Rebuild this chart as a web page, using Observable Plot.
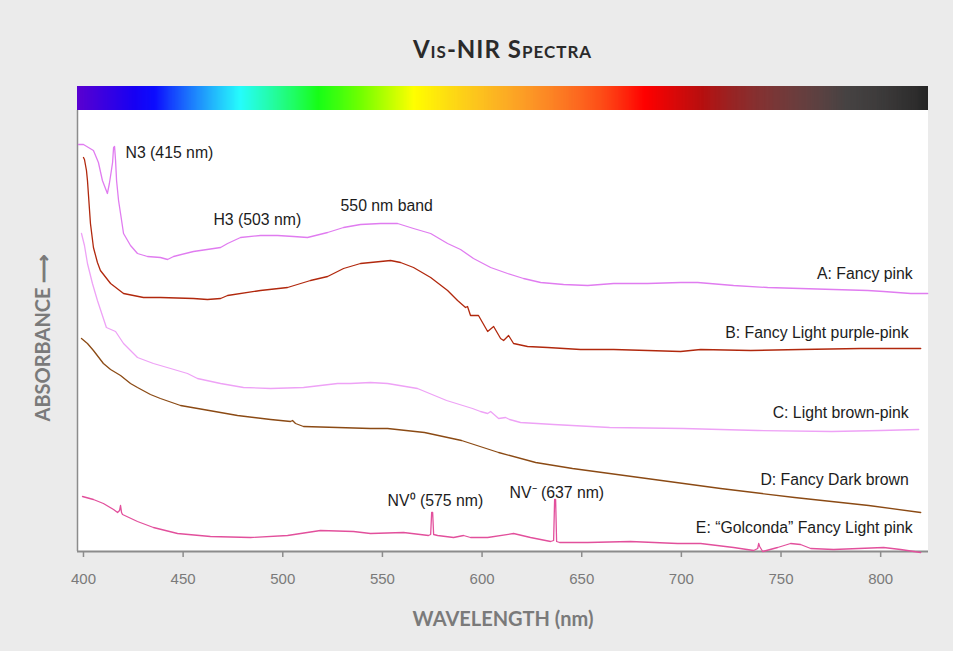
<!DOCTYPE html>
<html>
<head>
<meta charset="utf-8">
<script src="https://cdn.jsdelivr.net/npm/d3@7"></script>
<script src="https://cdn.jsdelivr.net/npm/@observablehq/plot@0.6"></script>
<style>
  html, body { margin: 0; padding: 0; background: #ebebeb; }
  #wrap { width: 953px; height: 651px; overflow: hidden; position: relative; }
  #title {
    position: absolute; left: 77px; width: 851px; top: 0;
    height: 70px; box-sizing: border-box; padding-top: 35px;
    text-align: center; font-family: Lato, "Open Sans", sans-serif;
    font-weight: 700; font-size: 24px; line-height: 28px; color: #2a2a2a;
    font-variant: small-caps; letter-spacing: 1px;
  }
  #chart { position: absolute; left: 0; top: 70px; }
  svg { display: block; }
</style>
</head>
<body>
<div id="wrap">
  <div id="title">Vis-NIR Spectra</div>
  <div id="chart"></div>
</div>
<script>
// ---- data (wavelength nm, relative absorbance, offset traces) ----
const xTicks = [400, 450, 500, 550, 600, 650, 700, 750, 800];

const specA = [[397.5,407],[400,407],[405,401],[407.5,389],[409.5,371],[412,358],[413,368],[414,381],[414.6,389],[415.1,404],[415.6,405],[416.1,391],[416.6,371],[417.6,351],[418.6,338],[420.1,318],[423.6,306],[427.1,298],[432.1,295],[438.6,294],[442.2,292],[445.2,295],[455.2,300],[468.8,304],[472.3,308],[478.8,314],[488.8,316],[497.4,316],[505.4,315],[512.4,314],[522.5,319],[530.5,324],[539,327],[549.1,328],[557.6,328],[565.6,323],[574.2,318],[582.7,308],[589.2,302],[595.7,293],[604.3,284],[612.8,278],[620.8,273],[629.4,269],[640.9,267],[653,266],[666,268],[683.1,268],[699.6,269],[708.2,269],[726.2,266],[743.3,264],[759.8,263],[776.4,262],[793.5,261],[801.5,260],[815.1,258],[823.6,258]];

const specB = [[400,394],[400.5,392],[401.5,381],[402,371],[403.5,328],[405,304],[407,289],[408.5,281],[413.6,268],[420.1,258],[430.1,254],[438.6,254],[455.2,253],[462.2,252],[468.8,253],[472.3,256],[488.8,261],[502.4,264],[513.9,271],[522.5,275],[530.5,283],[539,288],[549.1,290],[554.1,291],[559.1,289],[565.6,284],[574.2,274],[582.7,261],[587.7,251],[591.7,244],[592.7,245],[594.2,236],[598.2,236],[602.8,220],[605.8,225],[609.3,213],[610.8,211],[613.3,216],[615.8,208],[622.8,205],[632.9,204],[649.4,202],[666,202],[683.1,201],[699.6,200],[709.7,202],[734.8,201],[759.8,202],[790,203],[820.1,203]];

const specC = [[399,318],[400.5,306],[402,288],[404.5,268],[407,251],[411.5,224],[416.1,220],[420.1,208],[427.1,194],[435.1,188],[443.7,183],[452.2,178],[457.2,173],[468.8,168],[480.3,164],[493.9,163],[510.4,164],[527.5,168],[534,168],[544,169],[552.6,168],[567.6,163],[582.2,151],[595.2,143],[599.2,140],[602.8,138],[604.3,140],[608.3,133],[611.8,134],[613.8,132],[619.3,129],[635.9,127],[664,124],[701.1,123],[738.3,121],[775.4,120],[800,121],[819.1,122]];

const specD = [[399,213],[402,208],[405,201],[410,188],[413.6,182],[418.6,176],[423.6,168],[427.1,164],[433.6,157],[438.6,153],[448.7,146],[460.2,142],[477.3,136],[493.9,132],[503.9,130],[504.9,131],[506.4,128],[510.4,125],[527.5,124],[544,123],[552.6,123],[571.1,119],[589.7,111],[608.3,99],[626.9,89],[645.4,83],[682.6,73],[719.7,63],[756.8,54],[794,46],[820.1,39]];

const specE = [[399.5,55],[405,52],[410,48],[415.1,42],[417.1,39],[418.1,41],[418.6,46],[419.1,39],[419.6,37],[427.1,30],[435.1,24],[447.2,18],[463.7,15],[483.8,14],[502.4,16],[518.9,21],[535.5,20],[544,18],[560.6,19],[573.1,16],[574.2,17],[574.7,39],[575.2,39],[575.7,17],[577.7,16],[585.7,14],[590.7,16],[594.2,14],[602.8,14],[615.8,18],[624.3,14],[634.4,10],[635.9,11],[636.4,52],[636.9,52],[637.4,10],[638.9,9],[653,9],[674.5,10],[698.1,8],[709.7,8],[726.2,4],[736.3,1],[738.3,3],[738.8,8],[739.3,5],[740.8,0],[748.3,4],[754.8,8],[759.8,7],[764.9,3],[776.4,2],[801.5,4],[810,2],[820.1,-1]];

// visible-spectrum colour bar stops (nm -> colour)
const barStops  = [397, 436, 455, 479, 518, 566, 603, 628, 660, 682, 702, 727, 752, 783, 824];
const barColors = ["#5a00d0", "#0000ff", "#0070ff", "#00ffff", "#00ff00", "#ffff00", "#ffb400", "#ff8000", "#ff3c00", "#ff0000", "#cc0c0c", "#8e1515", "#5e1c1c", "#2a2626", "#262626"];

const seriesNames  = ["A: Fancy pink", "B: Fancy Light purple-pink", "C: Light brown-pink", "D: Fancy Dark brown", "E: \u201CGolconda\u201D Fancy Light pink"];
const seriesColors = ["#e07cf0", "#b1280d", "#eea2f6", "#8b4a14", "#e2509c"];

// annotation labels: text, wavelength, absorbance
const peakNotes = [
  ["N3 (415 nm)", 421.1, 399],
  ["H3 (503 nm)", 465.2, 332],
  ["550 nm band", 529.0, 346],
  ["NV\u2070 (575 nm)", 552.6, 51],
  ["NV\u207B (637 nm)", 613.8, 59]
];
const seriesNotes = [
  [seriesNames[0], 816.1, 278],
  [seriesNames[1], 814.1, 219],
  [seriesNames[2], 814.1, 139],
  [seriesNames[3], 814.1, 72],
  [seriesNames[4], 816.1, 24]
];

// ---- build ----
const xDomain = [397, 824];
const panelTop = 441, barTop = 465;
const series = [specA, specB, specC, specD, specE];
const table = series.flatMap((s, i) => s.map(([nm, v]) => ({nm, v, k: i})));

const barScale = d3.scaleLinear().domain(barStops).range(barColors).interpolate(d3.interpolateRgb);
const barCells = d3.range(xDomain[0], xDomain[1], 0.5);

const font = "'Liberation Sans', Arial, sans-serif";
const titleFont = "Lato, 'Open Sans', sans-serif";

const chart = Plot.plot({
  width: 953,
  height: 581,
  marginTop: 16,
  marginBottom: 100,
  marginLeft: 77,
  marginRight: 25,
  style: {background: "transparent", fontFamily: font},
  x: {domain: xDomain},
  y: {domain: [0, barTop], axis: null},
  color: {type: "identity"},
  marks: [
    Plot.rect([0], {x1: xDomain[0], x2: xDomain[1], y1: 0, y2: panelTop, fill: "white"}),
    Plot.rect(barCells, {x1: d => d, x2: d => Math.min(d + 0.6, xDomain[1]), y1: panelTop, y2: barTop, fill: d => barScale(d + 0.25)}),
    Plot.ruleX([xDomain[0]], {y1: 0, y2: panelTop, stroke: "#8c8c8c", strokeWidth: 1.5}),
    Plot.axisX({ticks: xTicks, tickSize: 6, tickPadding: 16, stroke: "#8c8c8c", strokeWidth: 1.5, fill: "#7a7a7a", fontSize: 15, fontFamily: font, label: null}),
    Plot.ruleY([0], {stroke: "#8c8c8c", strokeWidth: 2}),
    Plot.line(table, {x: "nm", y: "v", z: "k", stroke: d => seriesColors[d.k], strokeWidth: 1.3}),
    Plot.text(peakNotes, {x: d => d[1], y: d => d[2], text: d => d[0], textAnchor: "start", fill: "#1c1c1c", fontSize: 15.8, fontFamily: font}),
    Plot.text(seriesNotes, {x: d => d[1], y: d => d[2], text: d => d[0], textAnchor: "end", fill: "#1c1c1c", fontSize: 15.8, fontFamily: font}),
    Plot.text(["WAVELENGTH (nm)"], {frameAnchor: "bottom", dy: 74, fill: "#7a7a7a", fontSize: 20, fontWeight: "bold", fontFamily: titleFont, style: "letter-spacing:0.6px"}),
    Plot.text(["ABSORBANCE \u27F6"], {x: xDomain[0], y: 214, dx: -34, rotate: -90, fill: "#7a7a7a", fontSize: 20, fontWeight: "bold", fontFamily: titleFont})
  ]
});
document.getElementById("chart").appendChild(chart);
</script>
</body>
</html>
